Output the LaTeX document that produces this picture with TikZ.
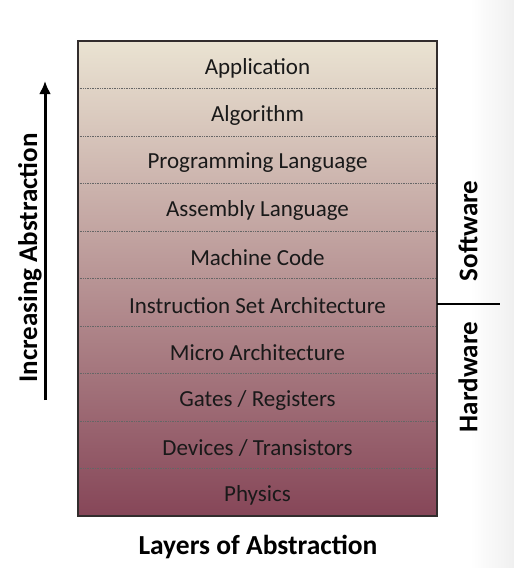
\documentclass[tikz,border=0pt]{standalone}
\usepackage{fontspec}
\setmainfont{Carlito}
\usetikzlibrary{arrows.meta}
\definecolor{topc}{RGB}{234,227,210}
\definecolor{botc}{RGB}{134,70,88}
\definecolor{edge}{RGB}{50,45,45}
\begin{document}
\begin{tikzpicture}[x=1pt,y=-1pt,
  layer/.style={font=\fontsize{23}{25}\selectfont, text=black!90},
  divider/.style={densely dotted, draw=black!60, line width=0.7pt},
  side/.style={font=\fontsize{27}{29}\selectfont\bfseries, rotate=90}]
\useasboundingbox (0,0) rectangle (514,568);
\shade[left color=white, right color=black!6] (470,0) rectangle (514,568);
\shade[top color=topc, bottom color=botc] (78,41) rectangle (437,516);
\foreach \i in {1,...,9} {
  \draw[divider] (78,{41+47.5*\i}) -- (437,{41+47.5*\i});
}
\draw[edge, line width=1.3pt] (78,41) rectangle (437,516);
\foreach \t [count=\i from 0] in {Application,Algorithm,Programming Language,Assembly Language,Machine Code,Instruction Set Architecture,Micro Architecture,Gates / Registers,Devices / Transistors,Physics} {
  \node[layer] (l\i) at (257.5,{68+47.5*\i}) {\t};
}
\coordinate (sw1) at (437,304);
\coordinate (sw2) at (500,304);
\draw[line width=1.6pt] (sw1) -- (sw2);
\node[side] (soft) at (468,231) {Software};
\node[side] (hard) at (468,377) {Hardware};
\coordinate (a1) at (45,400);
\coordinate (a2) at (45,81);
\draw[line width=3pt, -{Latex[length=13pt,width=12pt]}] (a1) -- (a2);
\node[side] (inc) at (30,258) {Increasing Abstraction};
\node[font=\fontsize{27.5}{29}\selectfont\bfseries] (title) at (258,547) {Layers of Abstraction};
\end{tikzpicture}
\end{document}
